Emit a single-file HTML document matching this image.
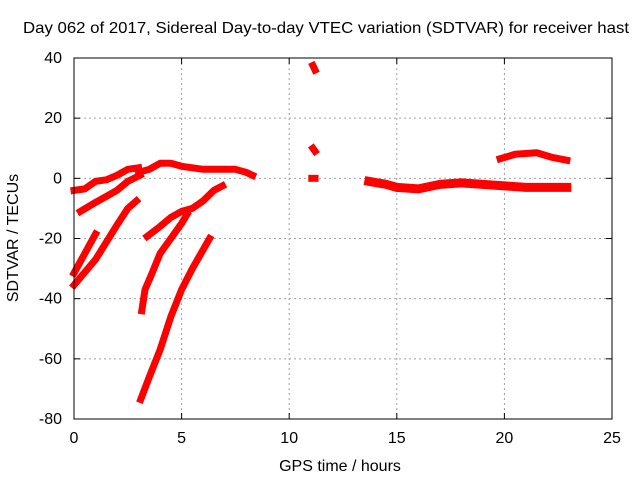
<!DOCTYPE html>
<html><head><meta charset="utf-8"><style>
body{margin:0;background:#fff}
svg text{font-family:"Liberation Sans",sans-serif;font-size:16px;fill:#000}
</style></head><body>
<svg width="640" height="480" id="chart">
<text x="326" y="33" text-anchor="middle" textLength="606" lengthAdjust="spacingAndGlyphs">Day 062 of 2017, Sidereal Day-to-day VTEC variation (SDTVAR) for receiver hast</text>
<text x="340" y="471" text-anchor="middle">GPS time / hours</text>
<text transform="translate(18,238) rotate(-90)" text-anchor="middle">SDTVAR / TECUs</text>
<g id="grid"></g><g id="marks"></g>
<rect x="74" y="58" width="538" height="361" fill="none" stroke="#000"/>
</svg>
<script>
const xTicks=[0,5,10,15,20,25];
const yTicks=[40,20,0,-20,-40,-60,-80];
const seg1=[[0,-4],[0.5,-3.5],[1,-1],[1.5,-0.5],[2,1],[2.5,3],[3,3.5]];
const seg2=[[3,2],[3.5,3],[4,5],[4.5,5],[5,4],[5.5,3.5],[6,3],[7,3],[7.5,3],[8,2],[8.3,1]];
const seg3=[[0.3,-11],[1,-8],[1.5,-6],[2,-4],[2.5,-1],[3.07,1]];
const seg4=[[0,-31.5],[0.5,-25],[1,-18.5]];
const seg5=[[0,-35.5],[1,-27],[2,-15.5],[2.5,-10],[2.9,-7.5]];
const seg6=[[3.4,-19.3],[4,-16],[4.5,-13],[5,-11],[5.5,-10],[6,-7.5],[6.5,-4],[6.9,-2.5]];
const seg7=[[3.15,-44],[3.3,-37],[3.6,-32],[4,-25],[4.5,-20],[5,-15],[5.25,-12]];
const seg8=[[3.1,-73.5],[3.5,-66],[4,-57],[4.5,-46],[5,-37],[5.5,-30],[6.3,-20]];
const seg9=[[11.1,37.5],[11.2,36]];
const seg10=[[11.1,10],[11.2,9]];
const seg11=[[11.05,0],[11.2,0]];
const seg12=[[13.7,-1],[14.5,-2],[15,-3],[16,-3.5],[17,-2],[18,-1.5],[19,-2],[20,-2.5],[21,-3],[22,-3],[22.9,-3]];
const seg13=[[19.8,6.5],[20.5,8],[21.5,8.5],[22.2,7],[22.9,6]];
const series=[seg1,seg2,seg3,seg4,seg5,seg6,seg7,seg8,seg9,seg10,seg11,seg12,seg13];
const NS="http://www.w3.org/2000/svg";
const X=h=>74+h*538/25;
const Y=v=>58+(40-v)*361/120;
const grid=document.getElementById('grid'),marks=document.getElementById('marks'),svg=document.getElementById('chart');
function mk(t,a,p){const e=document.createElementNS(NS,t);for(const k in a)e.setAttribute(k,a[k]);p.appendChild(e);return e;}
xTicks.forEach(t=>{const x=X(t);
 if(t>0&&t<25){const l=mk('line',{x1:x,x2:x,y1:58,y2:419,stroke:'#a0a0a0','stroke-dasharray':'2,3'},grid);}
 mk('line',{x1:x,x2:x,y1:419,y2:413,stroke:'#000'},grid);mk('line',{x1:x,x2:x,y1:58,y2:64,stroke:'#000'},grid);
 const tx=mk('text',{x:x,y:443,'text-anchor':'middle'},svg);tx.textContent=t;
 });
yTicks.forEach(t=>{const y=Y(t);
 if(t<40&&t>-80){const l=mk('line',{x1:74,x2:612,y1:y,y2:y,stroke:'#a0a0a0','stroke-dasharray':'2,3'},grid);}
 mk('line',{x1:74,x2:80,y1:y,y2:y,stroke:'#000'},grid);mk('line',{x1:612,x2:606,y1:y,y2:y,stroke:'#000'},grid);
 const tx=mk('text',{x:62,y:y+5,'text-anchor':'end'},svg);tx.textContent=t;
 });
series.forEach((s,i)=>{
 const p=mk('polyline',{points:s.map(d=>X(d[0])+','+Y(d[1])).join(' '),fill:'none',stroke:'#ff0000','stroke-width':(i==11?9:7),'stroke-linejoin':'round','stroke-linecap':'square'},marks);
 
 
});
</script>
</body></html>
